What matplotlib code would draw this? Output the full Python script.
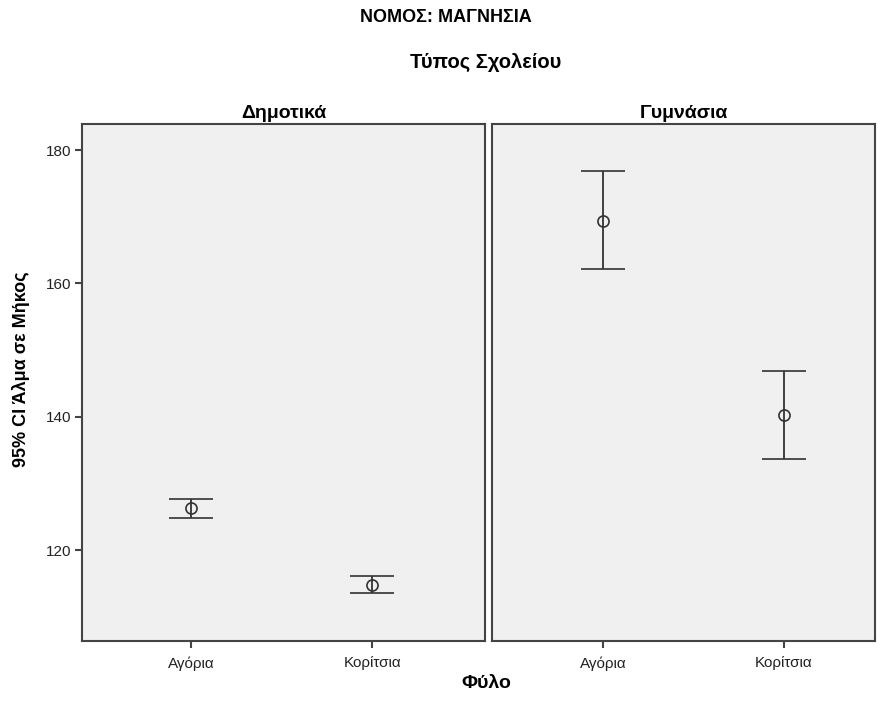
import matplotlib.pyplot as plt
import numpy as np

plt.rcParams['font.family'] = ['Liberation Sans', 'DejaVu Sans']

school_types = ['Δημοτικά', 'Γυμνάσια']
genders = ['Αγόρια', 'Κορίτσια']
means = {'Δημοτικά': [126.3, 114.8], 'Γυμνάσια': [169.4, 140.3]}
lower = {'Δημοτικά': [124.9, 113.6], 'Γυμνάσια': [162.1, 133.7]}
upper = {'Δημοτικά': [127.7, 116.1], 'Γυμνάσια': [176.9, 146.9]}
yticks = [120, 140, 160, 180]

fig = plt.figure(figsize=(8.86, 7.06), dpi=100)
W, H = 886, 706
panels = [(82, 485), (492, 875)]
xlims = [(-0.6, 1.62), (-0.614, 1.505)]
top, bottom = 124, 641

x = np.arange(len(genders))
for i, (school, (x0, x1)) in enumerate(zip(school_types, panels)):
    ax = fig.add_axes([x0 / W, 1 - bottom / H, (x1 - x0) / W, (bottom - top) / H])
    ax.set_facecolor('#f0f0f0')
    m = np.array(means[school])
    lo = m - np.array(lower[school])
    hi = np.array(upper[school]) - m
    ax.errorbar(x, m, yerr=[lo, hi], fmt='o', mfc='none', mec='#333333', ms=8,
                mew=1.2, ecolor='#333333', elinewidth=1.3, capsize=16, capthick=1.8)
    ax.set_xlim(*xlims[i])
    ax.set_ylim(106.4, 183.9)
    ax.set_xticks(x)
    ax.set_xticklabels(genders, fontsize=11, color='#222222')
    ax.set_title(school, fontsize=14, fontweight='bold', pad=4)
    for s in ax.spines.values():
        s.set_color('#444444')
        s.set_linewidth(1.5)
    ax.tick_params(axis='both', direction='out', length=5, width=1.5, color='#444444', pad=3)
    ax.tick_params(axis='x', pad=6)
    if i == 0:
        ax.set_yticks(yticks)
        ax.set_yticklabels([str(t) for t in yticks], fontsize=11, color='#222222')
    else:
        ax.set_yticks([])

fig.text(446 / W, 1 - 18 / H, 'ΝΟΜΟΣ: ΜΑΓΝΗΣΙΑ', ha='center', va='center', fontsize=13, fontweight='bold')
fig.text(486 / W, 1 - 62 / H, 'Τύπος Σχολείου', ha='center', va='center', fontsize=14.5, fontweight='bold')
fig.text(486 / W, 1 - 683 / H, 'Φύλο', ha='center', va='center', fontsize=14, fontweight='bold')
fig.text(21 / W, 1 - 369 / H, '95% CI Άλμα σε Μήκος', ha='center', va='center', rotation=90,
         fontsize=13, fontweight='bold')

plt.savefig('out.png', dpi=100)
